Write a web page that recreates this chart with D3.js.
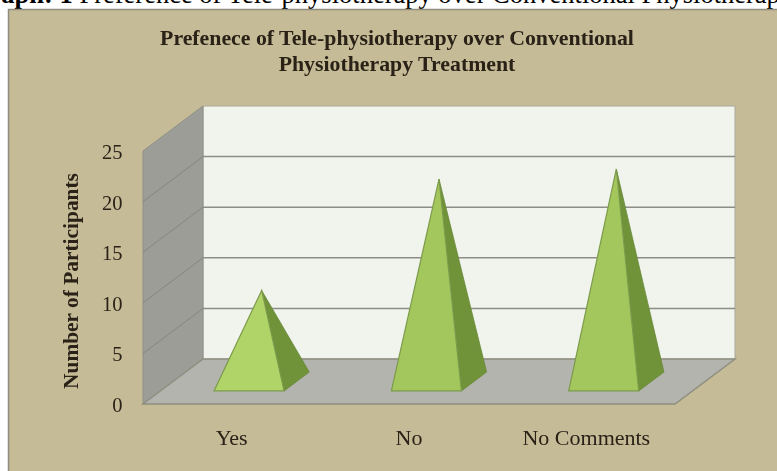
<!DOCTYPE html>
<html lang="en">
<head>
  <meta charset="UTF-8">
  <title>Prefenece of Tele-physiotherapy</title>
  <script src="https://d3js.org/d3.v7.min.js"></script>
  <style>
    html, body { margin: 0; background: #fff; overflow: hidden; }
    svg { display: block; }
    text { font-family: "Liberation Serif", serif; fill: #2a2118; }
  </style>
</head>
<body>
  <script>
    const categories = ['Yes', 'No', 'No Comments'];
    const participants = [9, 20, 21];
    const yTicks = [0, 5, 10, 15, 20, 25];
    const chartTitle = ['Prefenece of Tele-physiotherapy over Conventional', 'Physiotherapy Treatment'];
    const yTitle = 'Number of Participants';
    const captionLead = 'Graph: 1 ';
    const captionRest = 'Preference of Tele-physiotherapy over Conventional Physiotherapy';

    const width = 777, height = 471;
    const depthX = 60, depthY = 45;

    const x = d3.scaleBand().domain(categories).range([143, 675])
      .paddingInner(0.605).paddingOuter(0.3025);
    const y = d3.scaleLinear().domain([0, 25]).range([404, 151]);

    // front plane position pushed back by depth (0 = front, 1 = back wall)
    const pt = (px, py, depth) => [px + depthX * depth, py - depthY * depth];
    const poly = pts => d3.line()(pts) + 'Z';

    const svg = d3.select('body').append('svg').attr('width', width).attr('height', height);

    const defs = svg.append('defs');
    const blur = defs.append('filter').attr('id', 'soft');
    blur.append('feGaussianBlur').attr('stdDeviation', 0.45);

    // caption of the page the chart was cropped from, cut by the crop like the original
    const caption = svg.append('text')
      .attr('x', -31).attr('y', 3)
      .attr('font-size', 26.5)
      .style('fill', '#000');
    caption.append('tspan').attr('font-weight', 'bold').text(captionLead);
    caption.append('tspan').text(captionRest);

    const plot = svg.append('g').attr('filter', 'url(#soft)');

    plot.append('rect')
      .attr('x', 8.5).attr('y', 9.5).attr('width', 775).attr('height', 466)
      .attr('fill', '#c5bb96')
      .attr('stroke', '#8f8d80').attr('stroke-width', 1.5);

    const x0 = x.range()[0], x1 = x.range()[1];
    const y0 = y(0), yTop = y(25);

    // back wall
    plot.append('path')
      .attr('d', poly([pt(x0, yTop, 1), pt(x1, yTop, 1), pt(x1, y0, 1), pt(x0, y0, 1)]))
      .attr('fill', '#f0f4ec').attr('stroke', '#a9a99c');

    // side wall
    plot.append('path')
      .attr('d', poly([pt(x0, yTop, 0), pt(x0, yTop, 1), pt(x0, y0, 1), pt(x0, y0, 0)]))
      .attr('fill', '#9c9d97').attr('stroke', '#8f8f86');

    // floor
    plot.append('path')
      .attr('d', poly([pt(x0, y0, 0), pt(x0, y0, 1), pt(x1, y0, 1), pt(x1, y0, 0)]))
      .attr('fill', '#b3b4ae').attr('stroke', '#8f8f80').attr('stroke-width', 1.5);

    // gridlines
    const grid = plot.append('g').attr('fill', 'none').attr('stroke', '#8c8d84').attr('stroke-width', 1.5);
    grid.selectAll('path.back').data(yTicks.filter(d => d > 0 && d < 25)).join('path')
      .attr('class', 'back')
      .attr('d', d => d3.line()([pt(x0, y(d), 1), pt(x1, y(d), 1)]));
    grid.selectAll('path.side').data(yTicks.filter(d => d > 0 && d < 25)).join('path')
      .attr('class', 'side')
      .attr('stroke', '#85867f').attr('stroke-width', 1)
      .attr('d', d => d3.line()([pt(x0, y(d), 0), pt(x0, y(d), 1)]));

    // pyramids
    const near = 0.29, far = 0.71;
    const frontFill = ['#b1d468', '#a3c75b', '#a3c75b'];
    const pyramids = plot.selectAll('g.pyramid').data(categories).join('g').attr('class', 'pyramid');

    pyramids.append('path')
      .attr('fill', '#6f9238').attr('stroke', '#6a8a3a').attr('stroke-width', 0.8)
      .attr('d', d => {
        const right = x(d) + x.bandwidth();
        const apex = pt(x(d) + x.bandwidth() / 2, y(participants[categories.indexOf(d)]), 0.5);
        return poly([apex, pt(right, y0, near), pt(right, y0, far)]);
      });

    pyramids.append('path')
      .attr('fill', (d, i) => frontFill[i]).attr('stroke', '#7c9a4c').attr('stroke-width', 1.2)
      .attr('d', d => {
        const apex = pt(x(d) + x.bandwidth() / 2, y(participants[categories.indexOf(d)]), 0.5);
        return poly([apex, pt(x(d), y0, near), pt(x(d) + x.bandwidth(), y0, near)]);
      });

    // y axis labels
    plot.selectAll('text.ytick').data(yTicks).join('text')
      .attr('class', 'ytick')
      .attr('x', 122.5).attr('y', d => y(d) + 8)
      .attr('text-anchor', 'end')
      .attr('font-size', 20.5)
      .text(d => d);

    // category labels
    plot.selectAll('text.xlabel').data(categories).join('text')
      .attr('class', 'xlabel')
      .attr('x', d => x(d) + x.bandwidth() / 2).attr('y', 445)
      .attr('text-anchor', 'middle')
      .attr('font-size', 22)
      .text(d => d);

    // titles
    plot.selectAll('text.title').data(chartTitle).join('text')
      .attr('class', 'title')
      .attr('x', 397).attr('y', (d, i) => 44.5 + i * 26)
      .attr('text-anchor', 'middle')
      .attr('font-size', 21.8).attr('font-weight', 'bold')
      .text(d => d);

    plot.append('text')
      .attr('transform', 'translate(78,281) rotate(-90)')
      .attr('text-anchor', 'middle')
      .attr('font-size', 21.4).attr('font-weight', 'bold')
      .text(yTitle);
  </script>
</body>
</html>
